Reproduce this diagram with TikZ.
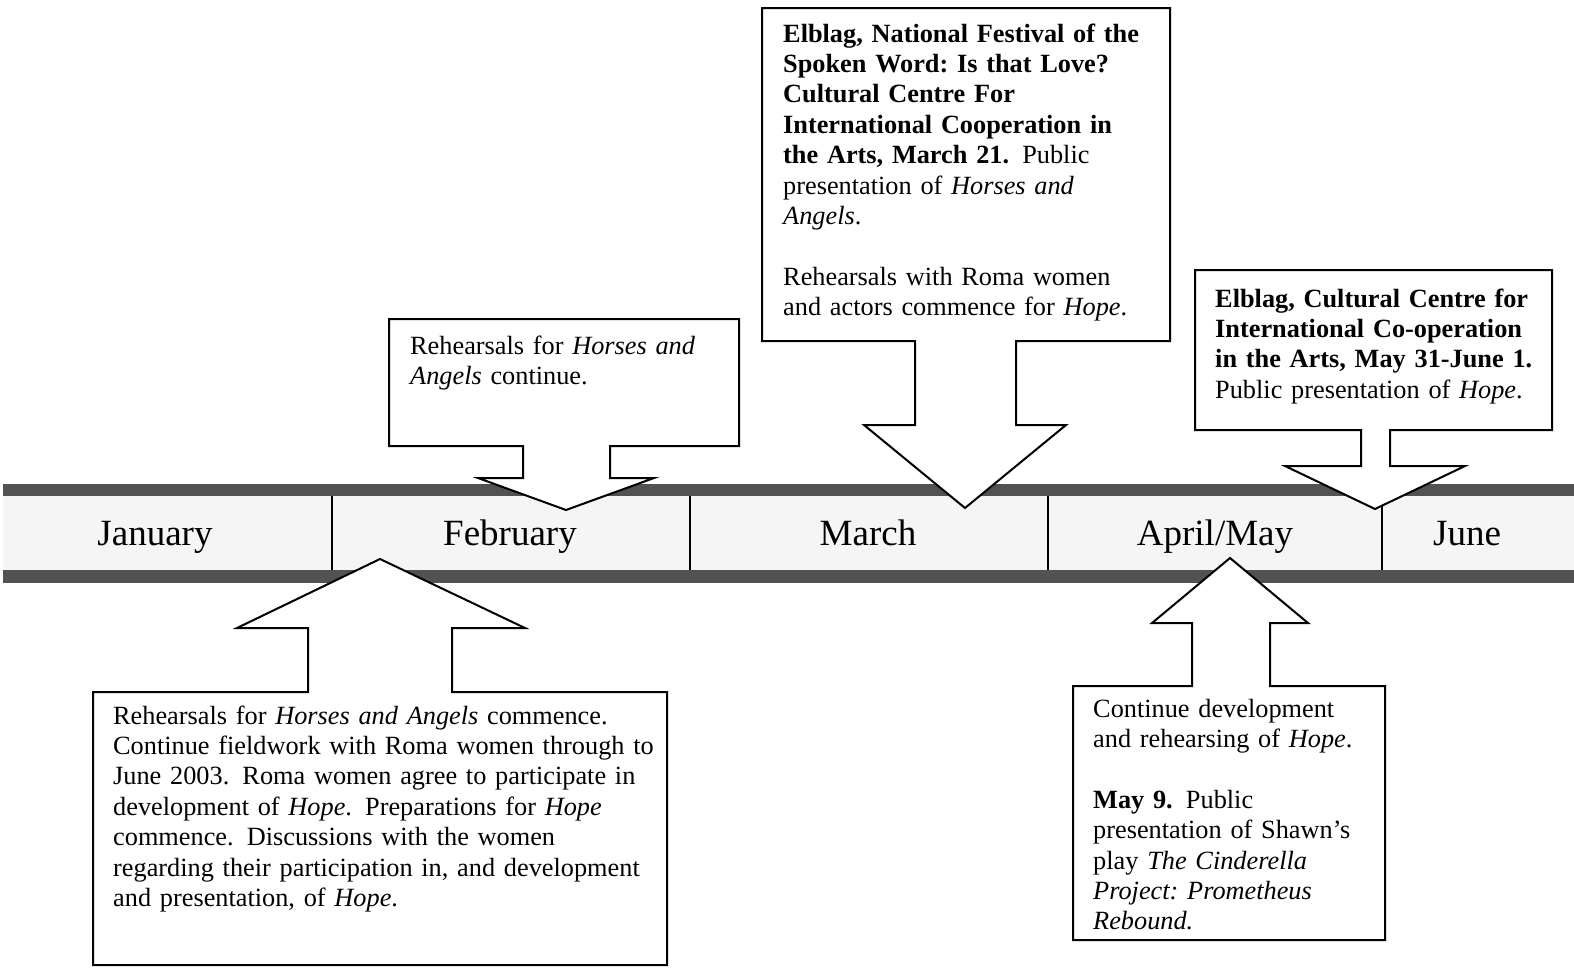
\documentclass[tikz,border=0pt]{standalone}
\usepackage{fontspec}
\setmainfont{Liberation Serif}
\frenchspacing
\begin{document}
\begin{tikzpicture}[x=1pt,y=-1pt,
  callout/.style={fill=white,draw=black,line width=2pt,line join=miter},
  bodytext/.style={anchor=base west,inner sep=0pt,align=left,text width=#1,
    font=\fontsize{26.3}{30.4}\selectfont},
  month/.style={anchor=base,inner sep=0pt,font=\fontsize{37}{40}\selectfont},
  divider/.style={line width=1.5pt},
  bandedge/.style={fill=black!68},
  bandmid/.style={fill=black!4}]
\useasboundingbox (0,0) rectangle (1574,969);

% timeline bar
\fill[bandmid] (3,496) rectangle (1574,570);
\fill[bandedge] (3,484) rectangle (1574,496);
\fill[bandedge] (3,570) rectangle (1574,583);

% month separators
\coordinate (d1t) at (332,496); \coordinate (d1b) at (332,570);
\coordinate (d2t) at (690,496); \coordinate (d2b) at (690,570);
\coordinate (d3t) at (1048,496); \coordinate (d3b) at (1048,570);
\coordinate (d4t) at (1382,496); \coordinate (d4b) at (1382,570);
\draw[divider] (d1t) -- (d1b);
\draw[divider] (d2t) -- (d2b);
\draw[divider] (d3t) -- (d3b);
\draw[divider] (d4t) -- (d4b);

% month labels
\node[month] (jan) at (155,545) {January};
\node[month] (feb) at (510,545) {February};
\node[month] (mar) at (868,545) {March};
\node[month] (aprmay) at (1215,545) {April/May};
\node[month] (jun) at (1467,545) {June};

% callouts above the bar
\draw[callout] (389,319) -- (739,319) -- (739,446) -- (610,446) -- (610,478)
  -- (654,478) -- (566,510) -- (478,478) -- (523,478) -- (523,446)
  -- (389,446) -- cycle;
\draw[callout] (762,8) -- (1170,8) -- (1170,341) -- (1016,341) -- (1016,425)
  -- (1066,425) -- (965,508) -- (864,425) -- (915,425) -- (915,341)
  -- (762,341) -- cycle;
\draw[callout] (1195,270) -- (1552,270) -- (1552,430) -- (1390,430) -- (1390,466)
  -- (1465,466) -- (1375,509) -- (1285,466) -- (1361,466) -- (1361,430)
  -- (1195,430) -- cycle;

% callouts below the bar
\draw[callout] (380,559) -- (525,628) -- (452,628) -- (452,692) -- (667,692)
  -- (667,965) -- (93,965) -- (93,692) -- (308,692) -- (308,628)
  -- (237,628) -- cycle;
\draw[callout] (1230,558) -- (1308,623) -- (1270,623) -- (1270,686) -- (1385,686)
  -- (1385,940) -- (1073,940) -- (1073,686) -- (1192,686) -- (1192,623)
  -- (1152,623) -- cycle;

% callout texts
\node[bodytext=320pt] (febtext) at (410,354)
  {Rehearsals for \textit{Horses and}\\\textit{Angels} continue.};

\node[bodytext=380pt] (martext) at (783,42)
  {\textbf{Elblag, National Festival of the}\\
   \textbf{Spoken Word: Is that Love?}\\
   \textbf{Cultural Centre For}\\
   \textbf{International Cooperation in}\\
   \textbf{the Arts, March 21.}\hspace{0.5em}Public\\
   presentation of \textit{Horses and}\\
   \textit{Angels}.\\[30.4pt]
   Rehearsals with Roma women\\
   and actors commence for \textit{Hope}.};

\node[bodytext=335pt] (juntext) at (1215,307)
  {\textbf{Elblag, Cultural Centre for}\\
   \textbf{International Co-operation}\\
   \textbf{in the Arts, May 31-June 1.}\\
   Public presentation of \textit{Hope}.};

\node[bodytext=550pt] (jantext) at (113,724)
  {Rehearsals for \textit{Horses and Angels} commence.\\
   Continue fieldwork with Roma women through to\\
   June 2003.\hspace{0.5em}Roma women agree to participate in\\
   development of \textit{Hope}.\hspace{0.5em}Preparations for \textit{Hope}\\
   commence.\hspace{0.5em}Discussions with the women\\
   regarding their participation in, and development\\
   and presentation, of \textit{Hope}.};

\node[bodytext=285pt] (aprtext) at (1093,717)
  {Continue development\\
   and rehearsing of \textit{Hope}.\\[30.4pt]
   \textbf{May 9.}\hspace{0.5em}Public\\
   presentation of Shawn’s\\
   play \textit{The Cinderella}\\
   \textit{Project: Prometheus}\\
   \textit{Rebound.}};
\end{tikzpicture}
\end{document}
